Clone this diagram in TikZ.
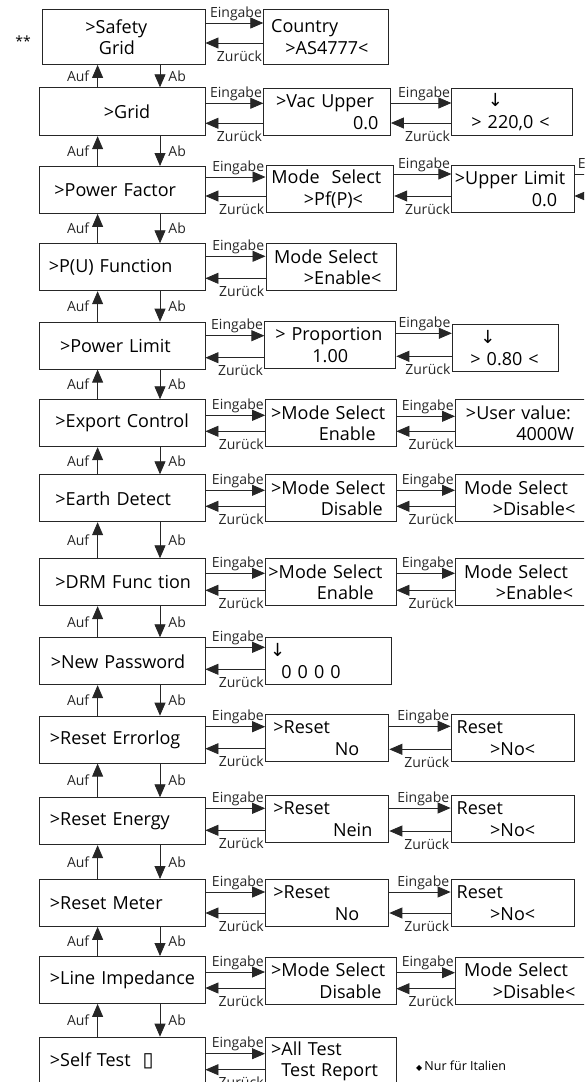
\documentclass[tikz,border=0pt]{standalone}
\usepackage{fontspec}
\setmainfont{Open Sans}
\newfontfamily\symb{DejaVu Sans}
\usetikzlibrary{arrows.meta, calc}

\begin{document}
\begin{tikzpicture}[x=1pt, y=-1pt,
    menubox/.style={draw=black!85, line width=0.9pt, anchor=north west, inner sep=0pt, minimum height=47pt, align=left, font=\fontsize{18pt}{21.5pt}\selectfont},
    arr/.style={-{Triangle[length=13pt,width=11pt]}, line width=0.8pt, black!85},
    eing/.style={anchor=south east, inner sep=1pt, yshift=1pt, font=\fontsize{14pt}{14pt}\selectfont},
    zur/.style={anchor=north east, inner sep=1pt, yshift=-6pt, font=\fontsize{14pt}{14pt}\selectfont},
    auf/.style={left, inner sep=1pt, xshift=-7pt, font=\fontsize{14pt}{14pt}\selectfont},
    ab/.style={right, inner sep=1pt, xshift=7pt, font=\fontsize{14pt}{14pt}\selectfont}]
    \useasboundingbox (0,0) rectangle (584,1082);
    \clip (0,0) rectangle (584,1082);

    \node[font=\fontsize{14pt}{14pt}\selectfont] (stars) at (23,41) {**};

    \node[menubox, text width=162.5pt, minimum height=55pt] (safety) at (42,9) {\hspace*{43pt}>Safety\\\hspace*{56.5pt}Grid};
    \node[menubox, text width=165.5pt, minimum height=48pt] (grid) at (39,87.3) {\hspace*{64.5pt}>Grid};
    \node[menubox, text width=165.5pt] (powerfactor) at (39,166) {\hspace*{15pt}>Power Factor};
    \node[menubox, text width=165.5pt] (pufunction) at (39,243.3) {\hspace*{9.4pt}>P(U) Function};
    \node[menubox, text width=165.5pt] (powerlimit) at (39,321.7) {\hspace*{20.6pt}>Power Limit};
    \node[menubox, text width=165.5pt] (export) at (39,399.3) {\hspace*{16pt}>Export Control};
    \node[menubox, text width=165.5pt] (earth) at (39,474.3) {\hspace*{16pt}>Earth Detect};
    \node[menubox, text width=165.5pt] (drm) at (39,558.3) {\hspace*{16pt}>DRM Func tion};
    \node[menubox, text width=165.5pt] (password) at (39,637.3) {\hspace*{11.3pt}>New Password};
    \node[menubox, text width=165.5pt] (errorlog) at (39,715.7) {\hspace*{10.5pt}>Reset Errorlog};
    \node[menubox, text width=165.5pt] (energy) at (39,797.3) {\hspace*{10.5pt}>Reset Energy};
    \node[menubox, text width=165.5pt] (meter) at (39,879) {\hspace*{10.5pt}>Reset Meter};
    \node[menubox, text width=165.5pt] (impedance) at (39,956) {\hspace*{10.5pt}>Line Impedance};
    \node[menubox, text width=165.5pt] (selftest) at (39,1036.7) {\hspace*{10.5pt}>Self Test\hspace{12pt}{\symb\fontsize{20pt}{20pt}\selectfont ▯}};

    \node[menubox, text width=125pt, minimum height=55pt] (country) at (263.3,9) {\hspace*{7.4pt}Country\\\hspace*{21.7pt}>AS4777<};
    \node[menubox, text width=126.7pt] (vacupper) at (263.3,88) {\hspace*{12.3pt}>Vac Upper\\\hspace*{114.7pt}\llap{0.0}};
    \node[menubox, text width=127.8pt] (pfmode) at (265.5,165) {\hspace*{5.5pt}Mode\ \ Select\\\hspace*{38pt}>Pf(P)<};
    \node[menubox, text width=130pt] (pumode) at (265.5,243.3) {\hspace*{8.2pt}Mode Select\\\hspace*{38pt}>Enable<};
    \node[menubox, text width=131pt] (proportion) at (264.4,321.3) {\hspace*{10.4pt}> Proportion\\\hspace*{47.6pt}1.00};
    \node[menubox, text width=130.3pt] (exportmode) at (265.2,399.3) {\hspace*{5.5pt}>Mode Select\\\hspace*{53.2pt}Enable};
    \node[menubox, text width=130.5pt] (earthmode) at (265,474.3) {\hspace*{5.7pt}>Mode Select\\\hspace*{55.3pt}Disable};
    \node[menubox, text width=130.5pt] (drmmode) at (265,558.3) {\hspace*{3pt}>Mode Select\\\hspace*{51.5pt}Enable};
    \node[menubox, text width=125.8pt] (pwvalue) at (265.2,637.3) {\hspace*{4.4pt}{\symb ↓}\\\hspace*{15.8pt}0 0 0 0};
    \node[menubox, text width=123.2pt] (errreset) at (265.2,714.3) {\hspace*{7.8pt}>Reset\\\hspace*{69.2pt}No};
    \node[menubox, text width=123.2pt] (energyreset) at (265.2,795) {\hspace*{7.8pt}>Reset\\\hspace*{67.4pt}Nein};
    \node[menubox, text width=123.2pt] (meterreset) at (265.2,879) {\hspace*{7.8pt}>Reset\\\hspace*{69.2pt}No};
    \node[menubox, text width=130.5pt] (linemode) at (265,956.7) {\hspace*{5.7pt}>Mode Select\\\hspace*{54pt}Disable};
    \node[menubox, text width=130.5pt] (testmenu) at (265,1037.3) {\hspace*{5.7pt}>All Test\\\hspace*{16pt}Test Report};

    \node[menubox, text width=120.3pt] (gridvalue) at (451.4,88) {\hspace*{36pt}{\symb ↓}\\\hspace*{19.6pt}> 220,0 <};
    \node[menubox, text width=122.1pt] (upperlimit) at (451.4,165) {\hspace*{3pt}>Upper Limit\\\hspace*{105.4pt}\llap{0.0}};
    \node[menubox, text width=106.1pt] (limitvalue) at (451.8,324) {\hspace*{28pt}{\symb ↓}\\\hspace*{18.2pt}> 0.80 <};
    \node[menubox, text width=140pt] (uservalue) at (455,399.3) {\hspace*{10.5pt}>User value:\\\hspace*{60.8pt}4000W};
    \node[menubox, text width=140pt] (earthvalue) at (455,474.3) {\hspace*{8.7pt}Mode Select\\\hspace*{37.3pt}>Disable<};
    \node[menubox, text width=140pt] (drmvalue) at (455,558.3) {\hspace*{8.7pt}Mode Select\\\hspace*{40.3pt}>Enable<};
    \node[menubox, text width=122.9pt] (errvalue) at (450.6,714.3) {\hspace*{5.6pt}Reset\\\hspace*{39.1pt}>No<};
    \node[menubox, text width=122.9pt] (energyvalue) at (450.6,795) {\hspace*{5.6pt}Reset\\\hspace*{39.1pt}>No<};
    \node[menubox, text width=122.9pt] (metervalue) at (450.6,879) {\hspace*{5.6pt}Reset\\\hspace*{39.1pt}>No<};
    \node[menubox, text width=140pt] (linevalue) at (455,956.7) {\hspace*{8.7pt}Mode Select\\\hspace*{37.3pt}>Disable<};
    \coordinate (pfnext) at (631,165);

    \node[anchor=west, inner sep=0pt, font=\fontsize{12.5pt}{12.5pt}\selectfont] (italy) at (416,1066) {{\symb\fontsize{8pt}{8pt}\selectfont ◆}\,Nur für Italien};

    \coordinate (upx) at (97.6,0);
    \coordinate (downx) at (160,0);
    \draw[arr] (grid.north -| upx) -- (safety.south -| upx) node[auf, midway] {Auf};
    \draw[arr] (safety.south -| downx) -- (grid.north -| downx) node[ab, midway] {Ab};
    \draw[arr] (powerfactor.north -| upx) -- (grid.south -| upx) node[auf, midway] {Auf};
    \draw[arr] (grid.south -| downx) -- (powerfactor.north -| downx) node[ab, midway] {Ab};
    \draw[arr] (pufunction.north -| upx) -- (powerfactor.south -| upx) node[auf, midway] {Auf};
    \draw[arr] (powerfactor.south -| downx) -- (pufunction.north -| downx) node[ab, midway] {Ab};
    \draw[arr] (powerlimit.north -| upx) -- (pufunction.south -| upx) node[auf, midway] {Auf};
    \draw[arr] (pufunction.south -| downx) -- (powerlimit.north -| downx) node[ab, midway] {Ab};
    \draw[arr] (export.north -| upx) -- (powerlimit.south -| upx) node[auf, midway] {Auf};
    \draw[arr] (powerlimit.south -| downx) -- (export.north -| downx) node[ab, midway] {Ab};
    \draw[arr] (earth.north -| upx) -- (export.south -| upx) node[auf, midway] {Auf};
    \draw[arr] (export.south -| downx) -- (earth.north -| downx) node[ab, midway] {Ab};
    \draw[arr] (drm.north -| upx) -- (earth.south -| upx) node[auf, midway] {Auf};
    \draw[arr] (earth.south -| downx) -- (drm.north -| downx) node[ab, midway] {Ab};
    \draw[arr] (password.north -| upx) -- (drm.south -| upx) node[auf, midway] {Auf};
    \draw[arr] (drm.south -| downx) -- (password.north -| downx) node[ab, midway] {Ab};
    \draw[arr] (errorlog.north -| upx) -- (password.south -| upx) node[auf, midway] {Auf};
    \draw[arr] (password.south -| downx) -- (errorlog.north -| downx) node[ab, midway] {Ab};
    \draw[arr] (energy.north -| upx) -- (errorlog.south -| upx) node[auf, midway] {Auf};
    \draw[arr] (errorlog.south -| downx) -- (energy.north -| downx) node[ab, midway] {Ab};
    \draw[arr] (meter.north -| upx) -- (energy.south -| upx) node[auf, midway] {Auf};
    \draw[arr] (energy.south -| downx) -- (meter.north -| downx) node[ab, midway] {Ab};
    \draw[arr] (impedance.north -| upx) -- (meter.south -| upx) node[auf, midway] {Auf};
    \draw[arr] (meter.south -| downx) -- (impedance.north -| downx) node[ab, midway] {Ab};
    \draw[arr] (selftest.north -| upx) -- (impedance.south -| upx) node[auf, midway] {Auf};
    \draw[arr] (impedance.south -| downx) -- (selftest.north -| downx) node[ab, midway] {Ab};

    \draw[arr] ($(safety.north east)+(0,14)$) -- ($(safety.north east -| country.west)+(0,14)$) node[eing] {Eingabe};
    \draw[arr] ($(safety.north east -| country.west)+(0,34)$) node[zur] {Zurück} -- ($(safety.north east)+(0,34)$);
    \draw[arr] ($(grid.north east)+(0,16)$) -- ($(grid.north east -| vacupper.west)+(0,16)$) node[eing] {Eingabe};
    \draw[arr] ($(grid.north east -| vacupper.west)+(0,36)$) node[zur] {Zurück} -- ($(grid.north east)+(0,36)$);
    \draw[arr] ($(vacupper.north east)+(0,15)$) -- ($(vacupper.north east -| gridvalue.west)+(0,15)$) node[eing] {Eingabe};
    \draw[arr] ($(vacupper.north east -| gridvalue.west)+(0,35)$) node[zur] {Zurück} -- ($(vacupper.north east)+(0,35)$);
    \draw[arr] ($(powerfactor.north east)+(0,11)$) -- ($(powerfactor.north east -| pfmode.west)+(0,11)$) node[eing] {Eingabe};
    \draw[arr] ($(powerfactor.north east -| pfmode.west)+(0,30)$) node[zur] {Zurück} -- ($(powerfactor.north east)+(0,30)$);
    \draw[arr] ($(pfmode.north east)+(0,9)$) -- ($(pfmode.north east -| upperlimit.west)+(0,9)$) node[eing] {Eingabe};
    \draw[arr] ($(pfmode.north east -| upperlimit.west)+(0,31)$) node[zur] {Zurück} -- ($(pfmode.north east)+(0,31)$);
    \draw[arr] ($(upperlimit.north east)+(0,9)$) -- ($(upperlimit.north east -| pfnext)+(0,9)$) node[eing] {Eingabe};
    \draw[arr] ($(upperlimit.north east -| pfnext)+(0,31)$) node[zur] {Zurück} -- ($(upperlimit.north east)+(0,31)$);
    \draw[arr] ($(pufunction.north east)+(0,13)$) -- ($(pufunction.north east -| pumode.west)+(0,13)$) node[eing] {Eingabe};
    \draw[arr] ($(pufunction.north east -| pumode.west)+(0,35)$) node[zur] {Zurück} -- ($(pufunction.north east)+(0,35)$);
    \draw[arr] ($(powerlimit.north east)+(0,14)$) -- ($(powerlimit.north east -| proportion.west)+(0,14)$) node[eing] {Eingabe};
    \draw[arr] ($(powerlimit.north east -| proportion.west)+(0,36)$) node[zur] {Zurück} -- ($(powerlimit.north east)+(0,36)$);
    \draw[arr] ($(proportion.north east)+(0,12)$) -- ($(proportion.north east -| limitvalue.west)+(0,12)$) node[eing] {Eingabe};
    \draw[arr] ($(proportion.north east -| limitvalue.west)+(0,35)$) node[zur] {Zurück} -- ($(proportion.north east)+(0,35)$);
    \draw[arr] ($(export.north east)+(0,16)$) -- ($(export.north east -| exportmode.west)+(0,16)$) node[eing] {Eingabe};
    \draw[arr] ($(export.north east -| exportmode.west)+(0,32)$) node[zur] {Zurück} -- ($(export.north east)+(0,32)$);
    \draw[arr] ($(exportmode.north east)+(0,17)$) -- ($(exportmode.north east -| uservalue.west)+(0,17)$) node[eing] {Eingabe};
    \draw[arr] ($(exportmode.north east -| uservalue.west)+(0,32)$) node[zur] {Zurück} -- ($(exportmode.north east)+(0,32)$);
    \draw[arr] ($(earth.north east)+(0,16)$) -- ($(earth.north east -| earthmode.west)+(0,16)$) node[eing] {Eingabe};
    \draw[arr] ($(earth.north east -| earthmode.west)+(0,32)$) node[zur] {Zurück} -- ($(earth.north east)+(0,32)$);
    \draw[arr] ($(earthmode.north east)+(0,16)$) -- ($(earthmode.north east -| earthvalue.west)+(0,16)$) node[eing] {Eingabe};
    \draw[arr] ($(earthmode.north east -| earthvalue.west)+(0,32)$) node[zur] {Zurück} -- ($(earthmode.north east)+(0,32)$);
    \draw[arr] ($(drm.north east)+(0,15)$) -- ($(drm.north east -| drmmode.west)+(0,15)$) node[eing] {Eingabe};
    \draw[arr] ($(drm.north east -| drmmode.west)+(0,32)$) node[zur] {Zurück} -- ($(drm.north east)+(0,32)$);
    \draw[arr] ($(drmmode.north east)+(0,15)$) -- ($(drmmode.north east -| drmvalue.west)+(0,15)$) node[eing] {Eingabe};
    \draw[arr] ($(drmmode.north east -| drmvalue.west)+(0,32)$) node[zur] {Zurück} -- ($(drmmode.north east)+(0,32)$);
    \draw[arr] ($(password.north east)+(0,10)$) -- ($(password.north east -| pwvalue.west)+(0,10)$) node[eing] {Eingabe};
    \draw[arr] ($(password.north east -| pwvalue.west)+(0,32)$) node[zur] {Zurück} -- ($(password.north east)+(0,32)$);
    \draw[arr] ($(errorlog.north east)+(0,11)$) -- ($(errorlog.north east -| errreset.west)+(0,11)$) node[eing] {Eingabe};
    \draw[arr] ($(errorlog.north east -| errreset.west)+(0,33)$) node[zur] {Zurück} -- ($(errorlog.north east)+(0,33)$);
    \draw[arr] ($(errreset.north east)+(0,12)$) -- ($(errreset.north east -| errvalue.west)+(0,12)$) node[eing] {Eingabe};
    \draw[arr] ($(errreset.north east -| errvalue.west)+(0,35)$) node[zur] {Zurück} -- ($(errreset.north east)+(0,35)$);
    \draw[arr] ($(energy.north east)+(0,11)$) -- ($(energy.north east -| energyreset.west)+(0,11)$) node[eing] {Eingabe};
    \draw[arr] ($(energy.north east -| energyreset.west)+(0,33)$) node[zur] {Zurück} -- ($(energy.north east)+(0,33)$);
    \draw[arr] ($(energyreset.north east)+(0,13)$) -- ($(energyreset.north east -| energyvalue.west)+(0,13)$) node[eing] {Eingabe};
    \draw[arr] ($(energyreset.north east -| energyvalue.west)+(0,36)$) node[zur] {Zurück} -- ($(energyreset.north east)+(0,36)$);
    \draw[arr] ($(meter.north east)+(0,13)$) -- ($(meter.north east -| meterreset.west)+(0,13)$) node[eing] {Eingabe};
    \draw[arr] ($(meter.north east -| meterreset.west)+(0,34)$) node[zur] {Zurück} -- ($(meter.north east)+(0,34)$);
    \draw[arr] ($(meterreset.north east)+(0,13)$) -- ($(meterreset.north east -| metervalue.west)+(0,13)$) node[eing] {Eingabe};
    \draw[arr] ($(meterreset.north east -| metervalue.west)+(0,34)$) node[zur] {Zurück} -- ($(meterreset.north east)+(0,34)$);
    \draw[arr] ($(impedance.north east)+(0,16)$) -- ($(impedance.north east -| linemode.west)+(0,16)$) node[eing] {Eingabe};
    \draw[arr] ($(impedance.north east -| linemode.west)+(0,32)$) node[zur] {Zurück} -- ($(impedance.north east)+(0,32)$);
    \draw[arr] ($(linemode.north east)+(0,16)$) -- ($(linemode.north east -| linevalue.west)+(0,16)$) node[eing] {Eingabe};
    \draw[arr] ($(linemode.north east -| linevalue.west)+(0,32)$) node[zur] {Zurück} -- ($(linemode.north east)+(0,32)$);
    \draw[arr] ($(selftest.north east)+(0,17)$) -- ($(selftest.north east -| testmenu.west)+(0,17)$) node[eing] {Eingabe};
    \draw[arr] ($(selftest.north east -| testmenu.west)+(0,33)$) node[zur] {Zurück} -- ($(selftest.north east)+(0,33)$);
\end{tikzpicture}
\end{document}
